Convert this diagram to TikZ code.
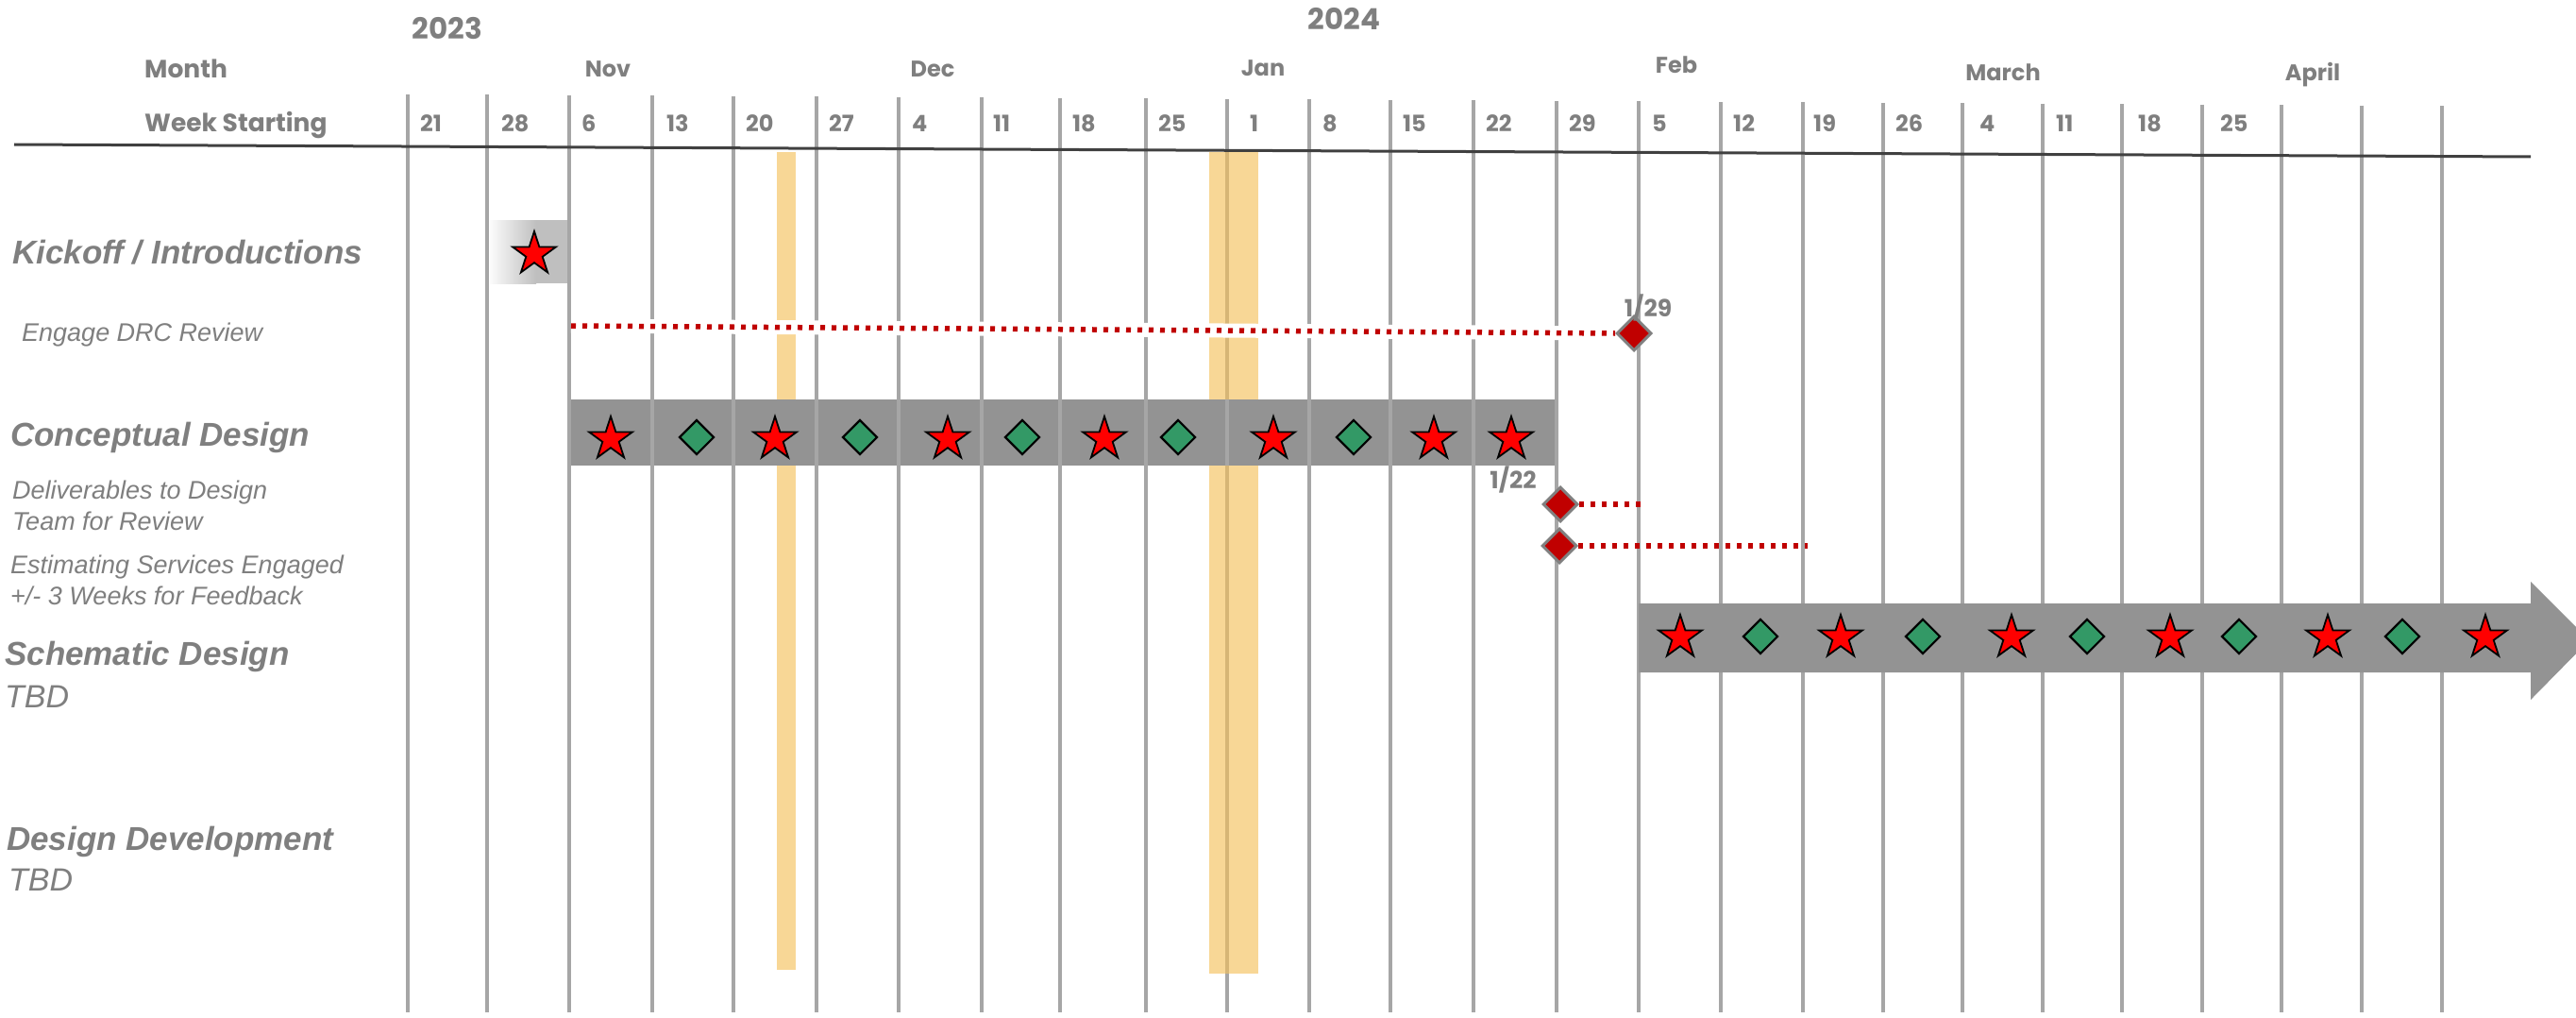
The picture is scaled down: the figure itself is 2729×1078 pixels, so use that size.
\documentclass[tikz,border=0pt]{standalone}
\usepackage{fontspec}
\setmainfont{Liberation Sans}
\newfontfamily\hdrfont{Poppins}
\usetikzlibrary{shapes.geometric}

\definecolor{txtgray}{RGB}{127,127,127}
\definecolor{gridgray}{RGB}{166,166,166}
\definecolor{bargray}{RGB}{147,147,147}
\definecolor{boxgray}{RGB}{191,191,191}
\definecolor{holiday}{RGB}{244,192,91}
\definecolor{rulegray}{RGB}{64,64,64}
\definecolor{mstred}{RGB}{255,0,0}
\definecolor{mstgreen}{RGB}{51,153,102}
\definecolor{duered}{RGB}{192,0,0}

\begin{document}
\begin{tikzpicture}[x=1pt,y=-1pt,
  gridline/.style={draw=gridgray,line width=4},
  hdrtext/.style={text=txtgray,inner sep=0,font=\hdrfont\bfseries\fontsize{24}{28}\selectfont},
  monthlbl/.style={hdrtext,anchor=base},
  weeklbl/.style={hdrtext,anchor=base west},
  yearlbl/.style={hdrtext,anchor=base,font=\hdrfont\bfseries\fontsize{31}{36}\selectfont},
  collbl/.style={hdrtext,anchor=base west,font=\hdrfont\bfseries\fontsize{26.5}{30}\selectfont},
  datelbl/.style={hdrtext,anchor=base,font=\hdrfont\bfseries\fontsize{25}{30}\selectfont},
  phase/.style={text=txtgray,inner sep=0,anchor=base west,font=\bfseries\itshape\fontsize{35}{42}\selectfont},
  task/.style={text=txtgray,inner sep=0,anchor=base west,font=\itshape\fontsize{27}{33}\selectfont},
  tbd/.style={text=txtgray,inner sep=0,anchor=base west,font=\itshape\fontsize{34}{40}\selectfont},
  milestar/.style={star,star points=5,star point ratio=2.618,minimum size=48,inner sep=0,
    fill=mstred,draw=black,line width=1.8},
  review/.style={diamond,minimum width=37,minimum height=37,inner sep=0,
    fill=mstgreen,draw=black,line width=2.2},
  duedate/.style={diamond,minimum width=37,minimum height=37,inner sep=0,
    fill=duered,draw=gray,line width=3},
  reddots/.style={draw=duered,line width=5.5,dash pattern=on 5 off 7},
]
\useasboundingbox (0,0) rectangle (2729,1078);

% weekly grid
\foreach \x in {432,516,603,691,777,865,952,1040,1123,1214,1300,1387,1473,
                1561,1649,1736,1823,1910,1995,2079,2164,2248,2333,2417,2502,2587}{
  \pgfmathsetmacro\ytop{100+0.0056*(\x-432)}
  \draw[gridline] (\x,\ytop) -- (\x,1072);
}

% header rule
\draw[rulegray,line width=3] (15,153) -- (2681,166);

% holiday weeks
\fill[holiday,opacity=0.64] (823,161) rectangle (843,1027);
\fill[holiday,opacity=0.64] (1281,161) rectangle (1333,1031);

% conceptual design bar with the grid showing through
\fill[bargray] (604,423) rectangle (1648,493);
\foreach \x in {603,691,777,865,952,1040,1123,1214,1300,1387,1473,1561,1649}{
  \draw[gridline] (\x,423) -- (\x,493);
}

% kickoff box
\fill[boxgray] (519,233) rectangle (601,300);
\shade[left color=white!94!boxgray,right color=boxgray] (519,233) rectangle (568,300);

% schematic design arrow
\fill[bargray] (1736,639) -- (2681,639) -- (2681,616) -- (2743,678)
  -- (2681,741) -- (2681,712) -- (1736,712) -- cycle;

% header texts
\node[yearlbl] (y2023) at (474,42) {2023};
\node[yearlbl] (y2024) at (1424,32) {2024};
\node[collbl] (hmonth) at (153,83) {Month};
\node[collbl] (hweek) at (153,140) {Week Starting};
\node[monthlbl] (mnov) at (644,82) {Nov};
\node[monthlbl] (mdec) at (988,82) {Dec};
\node[monthlbl] (mjan) at (1338,81) {Jan};
\node[monthlbl] (mfeb) at (1776,78) {Feb};
\node[monthlbl] (mmar) at (2122,86) {March};
\node[monthlbl] (mapr) at (2450,86) {April};
\foreach \x/\w/\dx in {432/21/13,516/28/15,603/6/13,691/13/15,777/20/13,865/27/13,
                       952/4/14,1040/11/12,1123/18/13,1214/25/13,1300/1/24,1387/8/14,
                       1473/15/13,1561/22/13,1649/29/13,1736/5/14,1823/12/13,1910/19/11,
                       1995/26/13,2079/4/18,2164/11/14,2248/18/17,2333/25/19}{
  \node[weeklbl] (wk\x) at (\x+\dx,140) {\w};
}

% kickoff milestone
\node[milestar] (kickstar) at (566,269) {};

% DRC review engagement
\node[duedate] (drc) at (1731,353) {};
\coordinate (drcstart) at (605,345);
\draw[white,line width=15] (drcstart) -- (drc.west);
\draw[reddots] (drcstart) -- (drc.west);
\node[datelbl] (drcdate) at (1746,335) {1/29};

% conceptual design milestones
\foreach \x [count=\i] in {647,821,1004,1170,1349,1519,1601}{
  \node[milestar] (cdstar\i) at (\x,465) {};
}
\foreach \x [count=\i] in {738,911,1083,1248,1434}{
  \node[review] (cdrev\i) at (\x,463) {};
}

% deliverables and estimating
\node[datelbl] (deldate) at (1603,517) {1/22};
\node[duedate] (deliv) at (1653,534) {};
\coordinate (delivend) at (1738,534);
\draw[reddots] (deliv.east) -- (delivend);
\node[duedate] (estim) at (1652,578) {};
\coordinate (estimend) at (1915,578);
\draw[reddots] (estim.east) -- (estimend);

% schematic design milestones
\foreach \x [count=\i] in {1780,1950,2131,2299,2466,2633}{
  \node[milestar] (sdstar\i) at (\x,675) {};
}
\foreach \x [count=\i] in {1865,2037,2211,2372,2545}{
  \node[review] (sdrev\i) at (\x,674) {};
}

% phase and task labels
\node[phase] (lkick) at (13,279) {Kickoff / Introductions};
\node[task] (ldrc) at (23,361) {Engage DRC Review};
\node[phase] (lcd) at (11,472) {Conceptual Design};
\node[task] (ldel1) at (13,528) {Deliverables to Design};
\node[task] (ldel2) at (13,561) {Team for Review};
\node[task] (lest1) at (11,607) {Estimating Services Engaged};
\node[task] (lest2) at (11,640) {+/- 3 Weeks for Feedback};
\node[phase] (lsd) at (5,704) {Schematic Design};
\node[tbd] (lsdtbd) at (5,749) {TBD};
\node[phase] (ldd) at (7,900) {Design Development};
\node[tbd] (lddtbd) at (9,943) {TBD};
\end{tikzpicture}
\end{document}
